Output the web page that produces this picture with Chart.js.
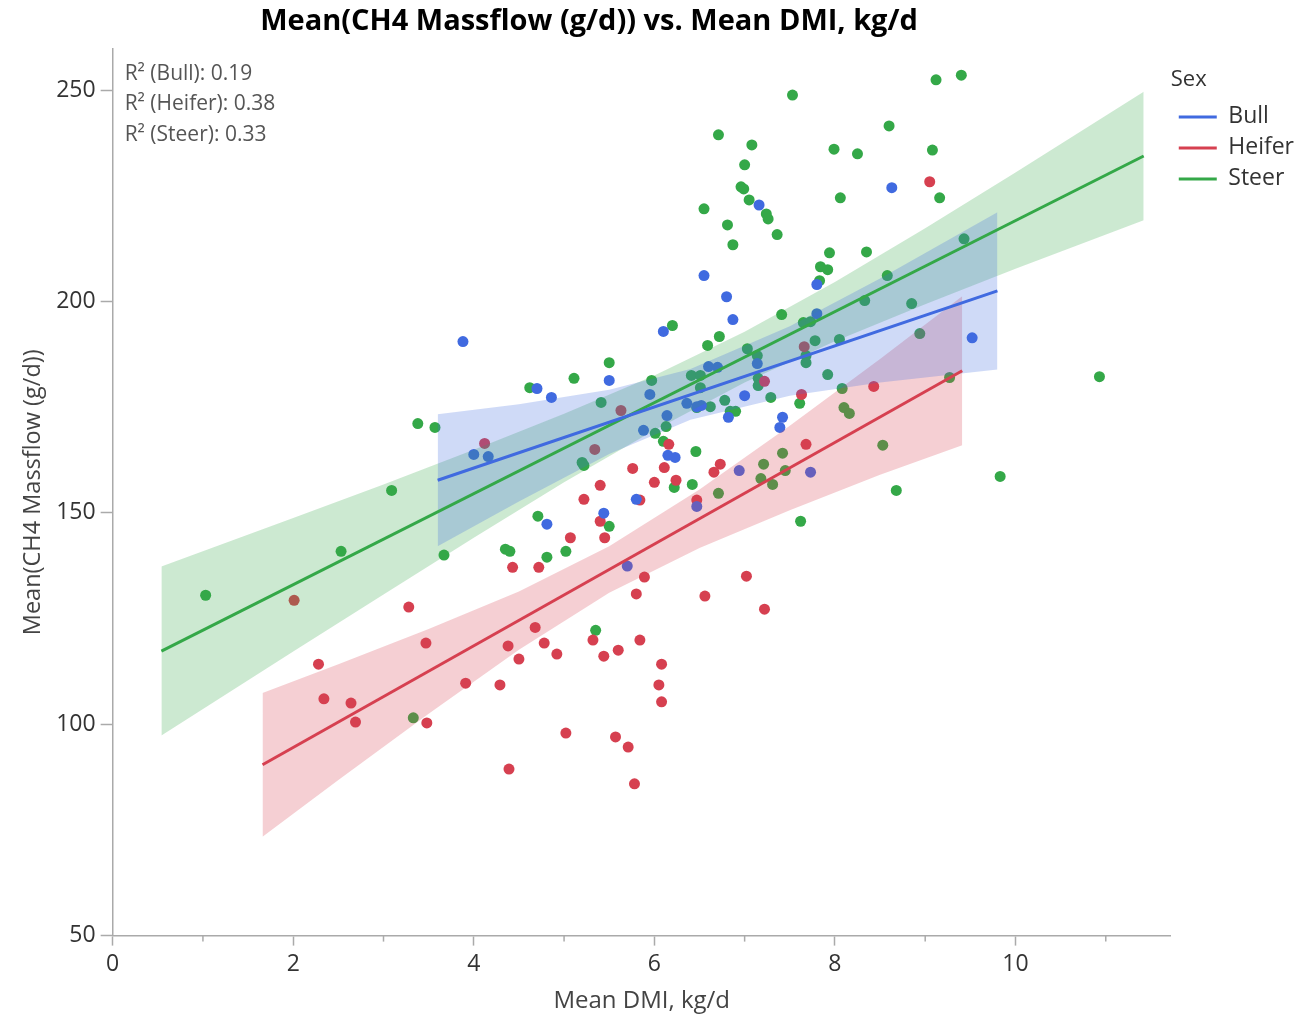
<!DOCTYPE html>
<html>
<head>
<meta charset="utf-8">
<script src="https://cdn.jsdelivr.net/npm/chart.js@4.4.0/dist/chart.umd.min.js"></script>
<style>
  html, body { margin: 0; padding: 0; background: #fff; }
  #wrap { width: 1294px; height: 1014px; }
</style>
</head>
<body>
<div id="wrap"><canvas id="ch4-chart"></canvas></div>
<script>
// Mean CH4 massflow (g/d) vs mean DMI (kg/d), one series per sex
const bullDmi = [6.80, 6.87, 6.10, 7.80, 7.14, 6.60, 6.70, 5.95, 7.00, 6.36, 6.47, 6.52, 6.82, 7.42, 7.39, 6.14, 5.88, 6.15, 6.23, 6.94,
  7.73, 6.47, 7.16, 6.55, 7.80, 8.63, 9.52, 3.88, 5.50, 4.70, 4.86, 4.00, 4.16, 5.80, 5.44, 4.81, 5.70];
const bullCh4 = [201.1, 195.7, 192.9, 197.1, 185.3, 184.6, 184.4, 178.0, 177.7, 175.9, 175.1, 175.4, 172.6, 172.6, 170.2, 173.0, 169.5, 163.6, 163.1, 160.0,
  159.6, 151.5, 222.8, 206.1, 204.0, 226.9, 191.4, 190.5, 181.3, 179.4, 177.3, 163.8, 163.3, 153.2, 149.9, 147.3, 137.4];

const heiferDmi = [7.66, 7.22, 8.43, 7.63, 6.16, 6.11, 6.73, 6.66, 7.68, 6.00, 6.24, 6.47, 5.84, 9.05, 5.63, 4.12, 5.34, 5.76, 5.40, 5.22,
  5.40, 5.07, 5.45, 4.43, 4.72, 5.89, 5.80, 4.68, 5.32, 4.38, 4.78, 5.84, 5.60, 5.44, 4.92, 4.50, 6.08, 3.91, 4.29, 6.05,
  6.08, 5.02, 5.57, 5.71, 4.39, 5.78, 2.01, 3.28, 3.47, 2.28, 2.34, 2.64, 2.69, 3.48, 7.02, 6.56, 7.22];
const heiferCh4 = [189.3, 181.1, 179.9, 178.0, 166.2, 160.7, 161.5, 159.6, 166.2, 157.2, 157.7, 153.0, 153.0, 228.3, 174.2, 166.4, 165.0, 160.5, 156.5, 153.2,
  148.0, 144.1, 144.1, 137.1, 137.1, 134.8, 130.8, 122.9, 119.9, 118.5, 119.2, 119.9, 117.5, 116.1, 116.6, 115.4, 114.2, 109.7, 109.3, 109.3,
  105.3, 97.9, 97.0, 94.6, 89.4, 85.9, 129.3, 127.7, 119.2, 114.2, 106.0, 105.0, 100.5, 100.3, 135.0, 130.3, 127.2];

const steerDmi = [1.03, 2.53, 3.09, 3.38, 3.57, 3.67, 3.33, 4.35, 4.40, 4.62, 4.71, 4.81, 5.02, 5.11, 5.20, 5.22, 5.41, 5.50, 5.50, 5.35,
  5.97, 6.01, 6.10, 6.13, 6.20, 6.72, 6.59, 7.41, 8.33, 7.65, 7.73, 7.78, 8.05, 7.68, 7.68, 7.03, 7.14, 7.15, 7.15, 6.41,
  6.51, 6.51, 7.92, 8.08, 6.78, 7.29, 7.61, 6.47, 6.62, 6.84, 6.90, 8.10, 8.16, 8.53, 6.46, 7.21, 7.42, 7.45, 7.18, 7.31,
  6.22, 6.42, 6.71, 8.68, 7.53, 6.71, 7.08, 7.99, 8.25, 7.00, 6.96, 6.99, 7.05, 7.24, 7.26, 8.06, 6.55, 6.81, 7.36, 6.87,
  7.94, 7.84, 7.92, 7.83, 9.12, 9.40, 8.60, 9.08, 9.16, 9.43, 8.35, 8.58, 8.85, 8.94, 10.93, 9.27, 9.83, 7.62];
const steerCh4 = [130.5, 140.9, 155.3, 171.1, 170.2, 140.0, 101.5, 141.4, 140.9, 179.6, 149.2, 139.5, 140.9, 181.8, 161.9, 161.2, 176.1, 185.5, 146.8, 122.2,
  181.3, 168.8, 166.9, 170.4, 194.3, 191.7, 189.6, 196.9, 200.2, 195.0, 195.2, 190.7, 191.0, 187.2, 185.5, 188.8, 187.2, 181.8, 180.1, 182.5,
  182.5, 179.6, 182.7, 179.4, 176.6, 177.3, 175.9, 174.9, 175.1, 174.0, 174.0, 174.9, 173.5, 166.0, 164.5, 161.5, 164.1, 160.0, 158.1, 156.7,
  156.0, 156.7, 154.6, 155.3, 248.8, 239.4, 237.0, 236.0, 234.9, 232.3, 227.1, 226.6, 224.0, 220.7, 219.5, 224.5, 221.9, 218.1, 215.8, 213.4,
  211.5, 208.2, 207.5, 204.9, 252.4, 253.5, 241.5, 235.8, 224.5, 214.8, 211.7, 206.1, 199.5, 192.4, 182.2, 182.0, 158.6, 148.0];

// fitted lines (ends)
const fitBullX = [3.6, 9.8];
const fitBullY = [157.7, 202.5];
const fitHeiferX = [1.66, 9.41];
const fitHeiferY = [90.4, 183.6];
const fitSteerX = [0.54, 11.42];
const fitSteerY = [117.3, 234.4];

// confidence bands of the fit
const bandBullX = [3.6, 4.5, 5.5, 6.4, 7.5, 8.5, 9.8];
const bandBullHi = [173.3, 175.7, 179.1, 184.0, 194.1, 205.4, 221.1];
const bandBullLo = [142.1, 152.7, 163.9, 172.0, 177.7, 180.8, 183.9];
const bandHeiferX = [1.66, 2.5, 3.5, 4.5, 5.5, 6.5, 7.5, 8.5, 9.41];
const bandHeiferHi = [107.4, 114.2, 122.5, 131.4, 142.1, 155.5, 170.6, 186.4, 201.2];
const bandHeiferLo = [73.4, 86.8, 102.5, 117.6, 131.1, 141.7, 150.6, 159.0, 166.0];
const bandSteerX = [0.54, 2, 3, 4, 5, 6, 7, 8, 9, 10, 11.42];
const bandSteerHi = [137.3, 148.8, 156.7, 164.9, 173.4, 182.5, 192.8, 204.6, 217.3, 230.5, 249.6];
const bandSteerLo = [97.3, 117.2, 130.7, 144.1, 157.2, 169.5, 180.8, 190.6, 199.3, 207.7, 219.2];

const xTickValues = [0, 2, 4, 6, 8, 10];
const xMinorTicks = [1, 3, 5, 7, 9, 11];
const yTickValues = [50, 100, 150, 200, 250];

const titleText = 'Mean(CH4 Massflow (g/d)) vs. Mean DMI, kg/d';
const r2Lines = ['R² (Bull): 0.19', 'R² (Heifer): 0.38', 'R² (Steer): 0.33'];

const BLUE = 'rgb(64, 106, 224)';
const RED = 'rgb(214, 64, 80)';
const GREEN = 'rgb(52, 168, 72)';
const FONT = '"Open Sans", "Noto Sans", sans-serif';

function pts(xs, ys) {
  return xs.map((x, i) => ({ x: x, y: ys[i] }));
}

function fitLine(label, xs, ys, color) {
  return {
    type: 'line', label: label, data: pts(xs, ys),
    borderColor: color, backgroundColor: color, borderWidth: 3,
    pointRadius: 0, fill: false, tension: 0, order: 0
  };
}

function bandEdge(xs, ys, color, fill) {
  return {
    type: 'line', label: '', data: pts(xs, ys),
    borderColor: 'rgba(0,0,0,0)', borderWidth: 0, backgroundColor: color,
    pointRadius: 0, fill: fill, tension: 0, order: 1
  };
}

function scatterSet(label, xs, ys, color) {
  return {
    type: 'scatter', label: label, data: pts(xs, ys),
    backgroundColor: color, borderWidth: 0, pointRadius: 5.5, order: 2
  };
}

const overlayText = {
  id: 'overlayText',
  afterDraw(chart) {
    const ctx = chart.ctx;
    const area = chart.chartArea;
    const xs = chart.scales.x;
    ctx.save();
    ctx.font = 'bold 29px ' + FONT;
    ctx.fillStyle = '#000';
    ctx.textAlign = 'center';
    ctx.textBaseline = 'middle';
    ctx.fillText(titleText, 589, 22);

    ctx.font = '21px ' + FONT;
    ctx.fillStyle = '#555';
    ctx.textAlign = 'left';
    r2Lines.forEach((t, i) => ctx.fillText(t, area.left + 12, 74 + i * 30.5));

    // minor ticks on the x axis
    ctx.strokeStyle = '#aaa';
    ctx.lineWidth = 1.5;
    xMinorTicks.forEach(v => {
      const px = xs.getPixelForValue(v);
      ctx.beginPath();
      ctx.moveTo(px, area.bottom);
      ctx.lineTo(px, area.bottom + 6);
      ctx.stroke();
    });
    ctx.restore();
  }
};

const legendItems = [['Bull', BLUE], ['Heifer', RED], ['Steer', GREEN]];

new Chart(document.getElementById('ch4-chart').getContext('2d'), {
  type: 'scatter',
  data: {
    datasets: [
      fitLine('Bull', fitBullX, fitBullY, BLUE),
      fitLine('Heifer', fitHeiferX, fitHeiferY, RED),
      fitLine('Steer', fitSteerX, fitSteerY, GREEN),
      bandEdge(bandBullX, bandBullHi, 'rgba(64, 106, 224, 0.25)', '+1'),
      bandEdge(bandBullX, bandBullLo, 'rgba(0,0,0,0)', false),
      bandEdge(bandHeiferX, bandHeiferHi, 'rgba(214, 64, 80, 0.25)', '+1'),
      bandEdge(bandHeiferX, bandHeiferLo, 'rgba(0,0,0,0)', false),
      bandEdge(bandSteerX, bandSteerHi, 'rgba(52, 168, 72, 0.25)', '+1'),
      bandEdge(bandSteerX, bandSteerLo, 'rgba(0,0,0,0)', false),
      scatterSet('Bull', bullDmi, bullCh4, BLUE),
      scatterSet('Heifer', heiferDmi, heiferCh4, RED),
      scatterSet('Steer', steerDmi, steerCh4, GREEN)
    ]
  },
  options: {
    responsive: true,
    maintainAspectRatio: false,
    animation: false,
    layout: { padding: { top: 49, right: -10, left: 15, bottom: -2 } },
    plugins: {
      tooltip: { enabled: false },
      title: { display: false },
      legend: {
        position: 'right',
        align: 'start',
        title: { display: true, position: 'start', text: 'Sex', color: '#333', font: { family: FONT, size: 22 }, padding: { top: 20, bottom: 2 } },
        labels: {
          boxWidth: 38,
          boxHeight: 3,
          padding: 8,
          color: '#222',
          font: { family: FONT, size: 23 },
          generateLabels: () => legendItems.map(([text, color], i) => ({
            text: text, fillStyle: color, strokeStyle: color, lineWidth: 0, datasetIndex: i, hidden: false
          }))
        }
      }
    },
    scales: {
      x: {
        type: 'linear',
        min: 0,
        max: 11.72,
        afterBuildTicks: s => { s.ticks = xTickValues.map(v => ({ value: v })); },
        ticks: { color: '#333', font: { family: FONT, size: 23 }, padding: 5 },
        grid: { drawOnChartArea: false, tickLength: 10, tickColor: '#aaa', tickWidth: 1.5 },
        border: { color: '#aaa', width: 1.5 },
        title: { display: true, text: 'Mean DMI, kg/d', color: '#444', font: { family: FONT, size: 24 }, padding: { top: 4, bottom: 0 } }
      },
      y: {
        type: 'linear',
        min: 50,
        max: 259.7,
        afterBuildTicks: s => { s.ticks = yTickValues.map(v => ({ value: v })); },
        ticks: { color: '#333', font: { family: FONT, size: 23 }, padding: 5 },
        grid: { drawOnChartArea: false, tickLength: 12, tickColor: '#aaa', tickWidth: 1.5 },
        border: { color: '#aaa', width: 1.5 },
        title: { display: true, text: 'Mean(CH4 Massflow (g/d))', color: '#444', font: { family: FONT, size: 23.5 }, padding: 4 }
      }
    }
  },
  plugins: [overlayText]
});
</script>
</body>
</html>
